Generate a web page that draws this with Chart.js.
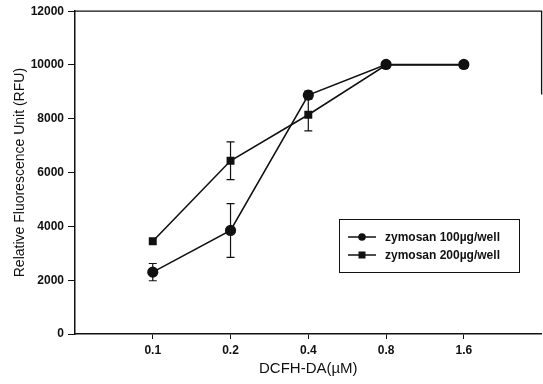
<!DOCTYPE html>
<html><head><meta charset="utf-8">
<script src="https://cdn.jsdelivr.net/npm/chart.js@4"></script>
<style>html,body{margin:0;padding:0;background:#fff;overflow:hidden}#w{width:548px;height:384px}</style>
</head><body><div id="w"><canvas id="c"></canvas></div>
<script>
const categories = ['0.1','0.2','0.4','0.8','1.6'];
const series100 = [2300, 3850, 8880, 10020, 10020];
const err100 = [320, 1000, 150, 60, 60];
const series200 = [3450, 6440, 8150, 10000, 10000];
const err200 = [0, 700, 600, 0, 0];
const yTicks = [0, 2000, 4000, 6000, 8000, 10000, 12000];
const seriesNames = ['zymosan 100\u00b5g/well', 'zymosan 200\u00b5g/well'];

const FONT = 'Liberation Sans, Arial, sans-serif';
const ink = '#111';

const errPlugin = {
  id: 'err',
  afterDatasetsDraw(chart) {
    const ctx = chart.ctx, xs = chart.scales.x, ys = chart.scales.y;
    const errs = [err100, err200];
    chart.data.datasets.forEach((ds, di) => {
      ds.data.forEach((p, i) => {
        const e = errs[di][i]; if (!e) return;
        const x = xs.getPixelForValue(p.x);
        const y1 = ys.getPixelForValue(p.y + e), y2 = ys.getPixelForValue(p.y - e);
        ctx.save(); ctx.strokeStyle = ink; ctx.lineWidth = 1.2;
        ctx.beginPath(); ctx.moveTo(x, y1); ctx.lineTo(x, y2);
        ctx.moveTo(x - 4, y1); ctx.lineTo(x + 4, y1);
        ctx.moveTo(x - 4, y2); ctx.lineTo(x + 4, y2); ctx.stroke(); ctx.restore();
      });
    });
    // frame top and right
    const a = chart.chartArea;
    ctx.save(); ctx.strokeStyle = ink; ctx.lineWidth = 1.3;
    ctx.beginPath(); ctx.moveTo(a.left, a.top); ctx.lineTo(a.right, a.top);
    ctx.lineTo(a.right, ys.getPixelForValue(8900)); ctx.stroke(); ctx.restore();
    // legend
    const lx = 339, ly = 219, lw = 180, lh = 53;
    ctx.save(); ctx.strokeStyle = ink; ctx.lineWidth = 1; ctx.strokeRect(lx + .5, ly + .5, lw, lh);
    ctx.font = 'bold 12px ' + FONT; ctx.fillStyle = ink; ctx.textBaseline = 'middle';
    const rows = [237, 255];
    chart.data.datasets.forEach((ds, i) => {
      const y = rows[i];
      ctx.lineWidth = 1.5; ctx.beginPath(); ctx.moveTo(348, y); ctx.lineTo(376, y); ctx.stroke();
      ctx.beginPath();
      if (ds.pointStyle === 'rect') ctx.rect(358.5, y - 3.5, 7, 7); else ctx.arc(362, y, 3.8, 0, Math.PI * 2);
      ctx.fill();
      ctx.fillText(ds.label, 385, y + 0.5);
    });
    ctx.restore();
  }
};

new Chart(document.getElementById('c'), {
  type: 'line',
  data: {
    datasets: [
      { label: seriesNames[0], data: categories.map((c, i) => ({x: i + 1, y: series100[i]})),
        borderColor: ink, backgroundColor: ink, borderWidth: 1.6, pointStyle: 'circle', pointRadius: 4.8, pointHoverRadius: 4.8 },
      { label: seriesNames[1], data: categories.map((c, i) => ({x: i + 1, y: series200[i]})),
        borderColor: ink, backgroundColor: ink, borderWidth: 1.6, pointStyle: 'rect', pointRadius: 4.5, pointHoverRadius: 4.5 }
    ]
  },
  options: {
    animation: false, responsive: true, maintainAspectRatio: false,
    layout: { padding: { left: 0, right: 1, top: 10, bottom: 0 } },
    plugins: { legend: { display: false }, tooltip: { enabled: false } },
    scales: {
      x: {
        type: 'linear', min: 0, max: categories.length + 1,
        afterBuildTicks(s) { s.ticks = categories.map((c, i) => ({ value: i + 1 })); },
        afterFit(s) { s.height = 50; },
        ticks: { autoSkip: false, maxRotation: 0, color: ink, font: { family: FONT, size: 12, weight: 'bold' }, padding: 4,
          callback: (v) => categories[v - 1] },
        grid: { drawOnChartArea: false, drawTicks: true, tickLength: 5, color: ink },
        border: { color: ink, width: 1.5 },
        title: { display: true, text: 'DCFH-DA(\u00b5M)', color: ink, font: { family: FONT, size: 15 }, padding: { top: 0, bottom: 6 } }
      },
      y: {
        min: 0, max: 12000,
        afterBuildTicks(s) { s.ticks = yTicks.map(v => ({ value: v })); },
        afterFit(s) { s.width = 75; },
        ticks: { color: ink, font: { family: FONT, size: 12, weight: 'bold' }, padding: 4, callback: (v) => String(v) },
        grid: { drawOnChartArea: false, drawTicks: true, tickLength: 7, color: ink },
        border: { color: ink, width: 1.5 },
        title: { display: true, text: 'Relative Fluorescence Unit (RFU)', color: ink, font: { family: FONT, size: 14 }, padding: { top: 12, bottom: 0 } }
      }
    }
  },
  plugins: [errPlugin]
});
</script></body></html>
